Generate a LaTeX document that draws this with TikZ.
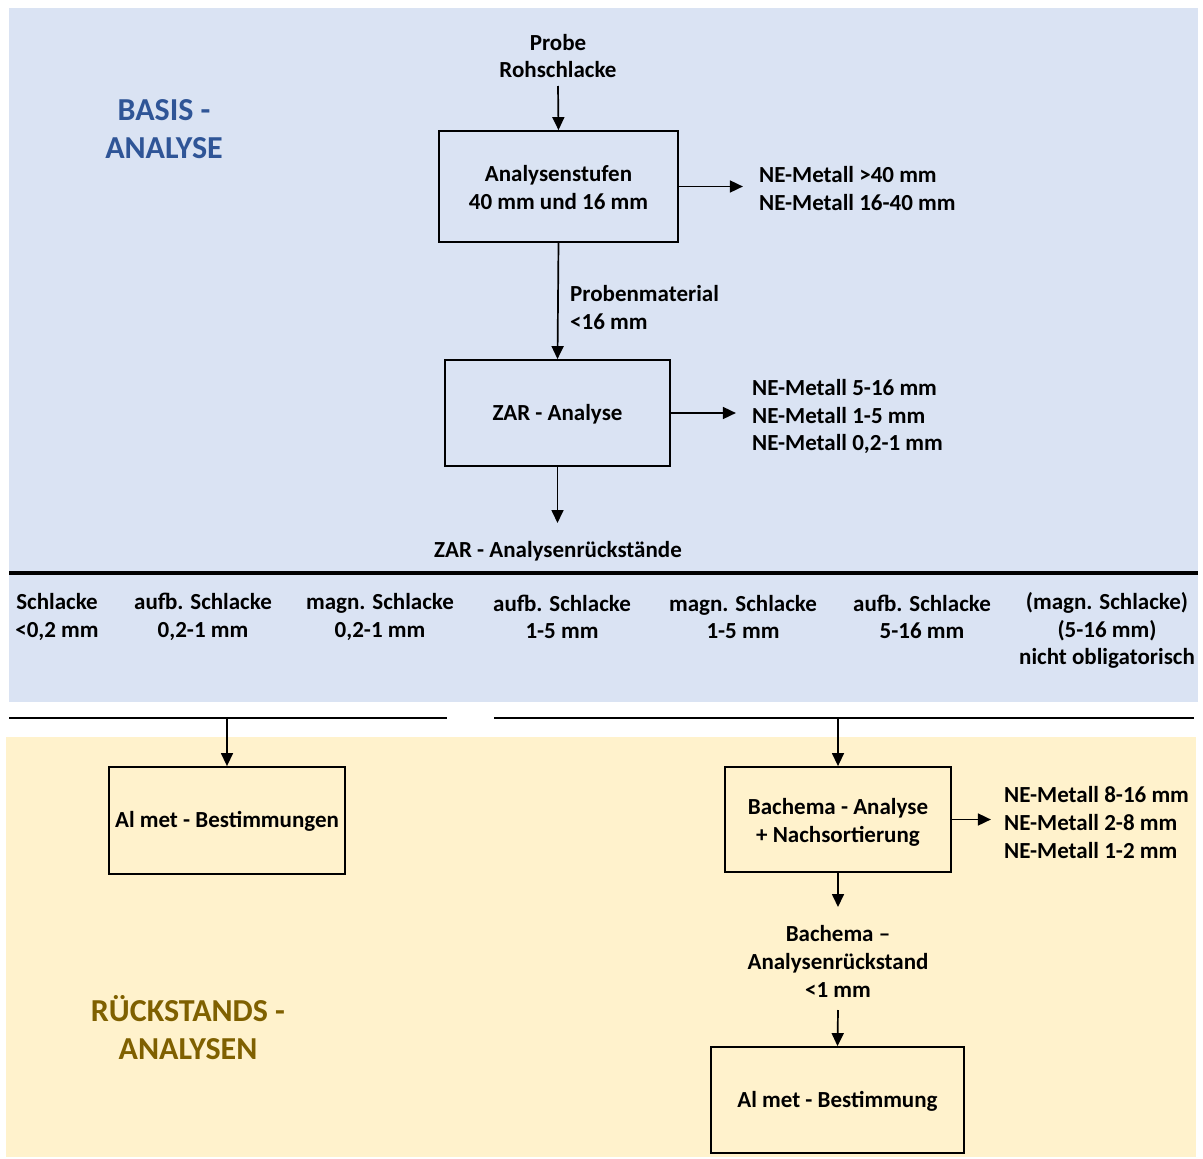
\documentclass[tikz,border=0pt]{standalone}
\usepackage{fontspec}
\setmainfont{Carlito}
\usetikzlibrary{arrows.meta}
\definecolor{basisbg}{HTML}{DAE3F3}
\definecolor{restbg}{HTML}{FFF2CC}
\definecolor{basisfg}{HTML}{2F5597}
\definecolor{restfg}{HTML}{7F6000}
% two centred lines, lowered a little inside a box
\newcommand{\twolines}[2]{\raisebox{-3.5pt}[\height][\depth]{\renewcommand{\arraystretch}{1.015}\begin{tabular}{@{}c@{}}#1\\#2\end{tabular}}}
\begin{document}
\begin{tikzpicture}[x=1pt,y=-1pt,
  txt/.style={font=\bfseries\fontsize{23}{27.6}\selectfont, align=center, inner sep=2pt},
  ltxt/.style={txt, align=left, anchor=west},
  head/.style={font=\bfseries\fontsize{32}{38}\selectfont, align=center, inner sep=0pt},
  stepbox/.style={draw, line width=1.8pt, txt, inner sep=0pt},
  arr/.style={line width=1.7pt, -{Triangle[length=13pt,width=12pt]}},
  rule/.style={line width=3.2pt}]
\useasboundingbox (0,0) rectangle (1203,1159);
% section backgrounds
\fill[basisbg] (9,8) rectangle (1198,702);
\fill[restbg] (6,737) rectangle (1196,1157);

% section headings
\node[head, text=basisfg] (hbasis) at (164,129.5) {BASIS -\\ANALYSE};
\node[head, text=restfg] (hrest) at (188,1027.5) {RÜCKSTANDS -\\ANALYSEN};

% basis analysis chain
\node[txt] (probe) at (558,56) {Probe\\Rohschlacke};
\node[stepbox, minimum width=239pt, minimum height=111pt] (b1) at (558.5,186.5) {\twolines{Analysenstufen}{40 mm und 16 mm}};
\node[ltxt, inner xsep=0pt] (ne1) at (759,188.5) {NE-Metall >40 mm\\NE-Metall 16-40 mm};
\node[ltxt, inner xsep=0pt] (pm) at (570,307.5) {Probenmaterial\\<16 mm};
\node[stepbox, minimum width=225pt, minimum height=106pt, text depth=2pt] (b2) at (557.5,413) {ZAR - Analyse};
\node[ltxt, inner xsep=0pt] (ne2) at (752,416.5) {NE-Metall 5-16 mm\\NE-Metall 1-5 mm\\NE-Metall 0,2-1 mm};
\node[txt] (zar) at (558,551.5) {ZAR - Analysenrückstände};

\draw[arr] (probe.south |- 0,86) -- (b1.north);
\draw[arr] (b1.east) -- ++(64,0) coordinate (ne1tip);
\draw[arr] (b1.south) -- (b2.north);
\draw[arr] (b2.east) -- ++(65,0) coordinate (ne2tip);
\draw[arr] (b2.south) -- (b2.south |- 0,523) coordinate (zartip);

% fraction row
\coordinate (r1a) at (9,573);
\coordinate (r1b) at (1198,573);
\draw[rule] (r1a) -- (r1b);
\node[txt] (f1) at (57,617) {Schlacke\\<0,2 mm};
\node[txt] (f2) at (203,617) {aufb. Schlacke\\0,2-1 mm};
\node[txt] (f3) at (380,617) {magn. Schlacke\\0,2-1 mm};
\node[txt] (f4) at (562,617) {aufb. Schlacke\\1-5 mm};
\node[txt] (f5) at (743,617) {magn. Schlacke\\1-5 mm};
\node[txt] (f6) at (922,617) {aufb. Schlacke\\5-16 mm};
\node[txt] (f7) at (1107,630.5) {(magn. Schlacke)\\(5-16 mm)\\nicht obligatorisch};

% residue analyses
\coordinate (r2a) at (9,718);
\coordinate (r2b) at (447,718);
\coordinate (r3a) at (494,718);
\coordinate (r3b) at (1194,718);
\draw[rule, line width=2.8pt] (r2a) -- (r2b);
\draw[rule, line width=2.8pt] (r3a) -- (r3b);

\node[stepbox, minimum width=236pt, minimum height=107pt, text depth=2pt] (b3) at (227,820.5) {Al met - Bestimmungen};
\node[stepbox, minimum width=226pt, minimum height=105pt] (b4) at (838,819.5) {\twolines{Bachema - Analyse}{+ Nachsortierung}};
\node[ltxt, inner xsep=0pt] (ne3) at (1004,822.5) {NE-Metall 8-16 mm\\NE-Metall 2-8 mm\\NE-Metall 1-2 mm};
\node[txt] (bres) at (838,961.5) {Bachema –\\Analysenrückstand\\<1 mm};
\node[stepbox, minimum width=253pt, minimum height=106pt, text depth=2pt] (b5) at (837.5,1100) {Al met - Bestimmung};

\draw[arr, line width=1.4pt] (b3.north |- r2a) -- (b3.north);
\draw[arr, line width=1.4pt] (b4.north |- r3a) -- (b4.north);
\draw[arr] (b4.east) -- ++(39,0) coordinate (ne3tip);
\draw[arr] (b4.south) -- (b4.south |- 0,907) coordinate (brestip);
\draw[arr] (bres.south |- 0,1010) -- (b5.north);
\end{tikzpicture}
\end{document}
